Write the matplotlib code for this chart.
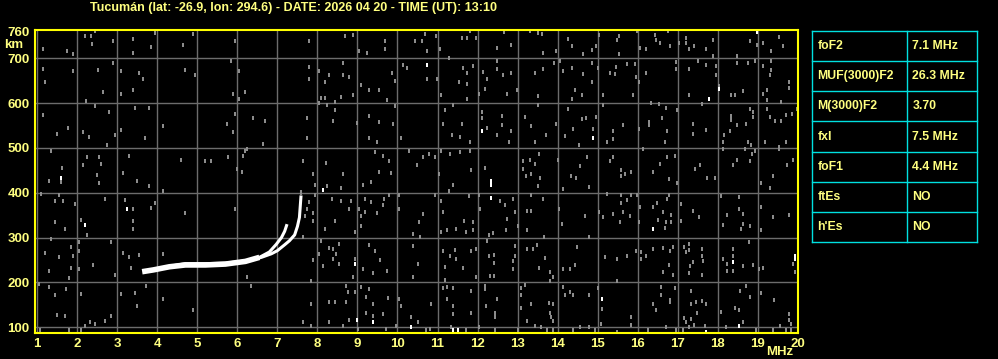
import matplotlib
matplotlib.use("Agg")
import matplotlib.pyplot as plt
import numpy as np

# タイトル
title = "Tucumán (lat: -26.9, lon: 294.6) - DATE: 2026 04 20 - TIME (UT): 13:10"

# 軸目盛り
freq_ticks = list(range(1, 21))
height_ticks = [100, 200, 300, 400, 500, 600, 700, 760]
grid_heights = [100, 200, 300, 400, 500, 600, 700]

# O-mode トレース (MHz, km)
o_freq = [3.62, 3.9, 4.3, 4.7, 5.2, 5.7, 6.2, 6.55, 6.8, 6.97, 7.1, 7.18, 7.24]
o_height = [224, 228, 235, 239, 239, 241, 247, 256, 268, 285, 300, 314, 330]

# X-mode トレース
x_freq = [4.3, 4.7, 5.2, 5.7, 6.2, 6.6, 6.85, 7.0, 7.18, 7.3, 7.43, 7.5, 7.55, 7.59]
x_height = [236, 242, 242, 243, 248, 256, 264, 271, 284, 293, 306, 325, 345, 394]
x_fade_freq = [7.59, 7.59]
x_fade_height = [394, 406]

# ノイズ (MHz, km)
noise = [
    (2.44, 760), (2.19, 750), (2.34, 750), (3.39, 742), (3.93, 757), (4.89, 753), (2.36, 731), (4.64, 729),
    (1.14, 721), (2.89, 739), (1.74, 717), (1.89, 709), (3.39, 712), (3.84, 726), (1.14, 677), (1.89, 671),
    (2.51, 673), (2.89, 689), (3.09, 671), (3.64, 653), (1.19, 648), (2.64, 625), (3.09, 621), (3.39, 628),
    (2.22, 604), (3.55, 667), (4.69, 674), (4.94, 662), (2.44, 593), (2.79, 581), (3.44, 590), (3.79, 590),
    (1.15, 574), (1.76, 545), (4.14, 548), (2.14, 536), (1.49, 530), (2.3, 524), (2.94, 529), (3.09, 541),
    (3.69, 523), (2.74, 507), (1.35, 494), (2.24, 479), (2.53, 479), (3.29, 481), (4.59, 474), (5.2, 470),
    (5.33, 470), (1.62, 455), (2.6, 465), (2.15, 461), (1.6, 424), (1.3, 427), (2.49, 439), (2.55, 422),
    (3.15, 443), (3.49, 427), (3.79, 414), (1.1, 398), (4.14, 404), (1.54, 396), (1.44, 381), (1.64, 381),
    (1.94, 375), (2.68, 386), (3.2, 383), (3.39, 363), (3.85, 366), (3.94, 378), (4.69, 355), (2.1, 340),
    (1.43, 334), (1.7, 320), (3.39, 338), (3.39, 320), (2.24, 306), (1.34, 297), (1.85, 279), (2.04, 290),
    (2.84, 290), (1.19, 266), (1.53, 256), (1.89, 260), (2.04, 271), (3.15, 266), (3.3, 256), (4.14, 264),
    (3.54, 261), (1.3, 225), (1.85, 232), (2.04, 229), (2.4, 239), (2.94, 217), (3.34, 232), (1.79, 210),
    (1.04, 197), (1.3, 191), (1.72, 186), (2.1, 174), (3.1, 174), (3.44, 176), (3.72, 193), (4.14, 163),
    (4.89, 139), (1.44, 173), (3.49, 148), (2.84, 126), (1.49, 128), (1.68, 126), (2.32, 111), (2.43, 107),
    (2.68, 113), (2.2, 104), (1.07, 93), (1.78, 93), (2.1, 93),
    (5.94, 739), (7.79, 739), (8.68, 750), (8.89, 751), (9.69, 739), (10.43, 739), (9.05, 717), (9.23, 712),
    (9.68, 721), (5.84, 693), (6.04, 671), (7.79, 680), (8.64, 689), (8.03, 671), (8.18, 648), (8.29, 662),
    (8.64, 662), (8.8, 657), (9.86, 667), (10.13, 684), (10.24, 679), (9.94, 649), (7.79, 653), (5.9, 621),
    (6.19, 625), (6.03, 608), (8.09, 612), (8.19, 612), (8.43, 602), (8.59, 614), (8.89, 617), (9.1, 640),
    (9.28, 630), (9.53, 628), (9.74, 606), (9.94, 593), (8.04, 601), (8.43, 584), (8.24, 595), (5.94, 576),
    (6.39, 567), (6.69, 559), (7.74, 567), (8.39, 561), (8.99, 555), (9.28, 571), (9.53, 558), (9.89, 554),
    (5.75, 554), (5.89, 535), (7.74, 523), (9.28, 523), (9.48, 513), (10.09, 523), (6.64, 509), (6.18, 492),
    (6.24, 497), (5.77, 479), (6.15, 481), (7.65, 470), (8.22, 467), (9.43, 491), (9.65, 482), (9.8, 470),
    (10.28, 492), (5.99, 452), (6.12, 446), (7.89, 441), (8.64, 441), (8.6, 410), (9.13, 418), (9.34, 424),
    (9.55, 447), (9.83, 445), (7.93, 418), (8.24, 416), (7.95, 396), (8.36, 386), (8.6, 381), (8.84, 382),
    (9.18, 385), (9.35, 379), (9.66, 386), (9.79, 396), (10.04, 396), (7.8, 379), (7.74, 364), (7.9, 355),
    (8.8, 364), (9.05, 364), (9.19, 358), (9.49, 355), (9.63, 372), (10.04, 364), (5.94, 364), (7.69, 349),
    (7.89, 338), (8.43, 338), (9.09, 349), (9.09, 327), (8.95, 313), (8.19, 319), (7.65, 301), (10.39, 307),
    (8.09, 293), (8.55, 286), (8.29, 277), (8.4, 275), (9.3, 284), (9.43, 271), (10.39, 281), (8.04, 264),
    (7.9, 249), (8.14, 236), (8.47, 264), (8.4, 252), (8.55, 241), (8.93, 252), (9.57, 249), (9.14, 229),
    (9.74, 226), (9.39, 221), (10.39, 213), (6.24, 213), (7.84, 204), (8.89, 212), (6.34, 193), (8.72, 193),
    (8.76, 178), (8.95, 178), (9.09, 191), (9.22, 167), (9.3, 186), (9.39, 152), (9.76, 165), (10.05, 163),
    (10.09, 148), (10.34, 122), (8.72, 157), (7.84, 152), (8.29, 157), (8.43, 157), (9.22, 133), (9.39, 126),
    (9.64, 130), (7.64, 111), (7.84, 104), (8.29, 111), (8.64, 102), (8.79, 116), (9.01, 96), (9.72, 96),
    (9.97, 104),
    (10.68, 755), (10.97, 750), (11.6, 746), (11.8, 761), (11.74, 745), (12.65, 758), (12.49, 723), (12.84, 729),
    (13.3, 761), (13.6, 755), (13.5, 757), (10.6, 738), (10.74, 717), (11.05, 721), (11.29, 701), (11.97, 746),
    (13.64, 712), (13.95, 715), (14.26, 743), (14.35, 727), (14.64, 710), (14.86, 719), (15.04, 751), (14.97, 727),
    (10.74, 653), (10.99, 654), (11.54, 648), (11.64, 679), (11.74, 668), (11.89, 682), (11.74, 643), (12.14, 669),
    (12.24, 654), (12.49, 693), (12.49, 675), (12.64, 662), (12.84, 667), (12.19, 632), (11.08, 617), (11.74, 610),
    (12.03, 621), (12.73, 621), (12.98, 630), (13.44, 667), (13.64, 677), (13.5, 615), (13.91, 689), (14.05, 694),
    (14.14, 671), (14.35, 679), (14.64, 664), (14.85, 689), (14.85, 648), (15.02, 679), (14.43, 628), (14.6, 617),
    (14.35, 608), (15.14, 617), (11.38, 595), (11.19, 585), (11.14, 554), (11.6, 554), (11.35, 529), (11.55, 524),
    (11.8, 514), (12.1, 580), (12.1, 567), (12.24, 545), (12.6, 571), (12.6, 550), (12.84, 537), (12.78, 513),
    (12.49, 528), (13.18, 569), (13.34, 548), (13.44, 514), (13.51, 595), (13.72, 529), (13.97, 554), (14.19, 526),
    (14.26, 587), (14.39, 543), (14.6, 564), (14.72, 567), (14.89, 543), (14.97, 569), (14.54, 506), (15.14, 595),
    (11.09, 492), (11.3, 487), (11.55, 491), (11.82, 494), (10.78, 487), (10.64, 479), (10.93, 479), (11.04, 442),
    (10.49, 461), (11.39, 418), (11.84, 450), (12.19, 456), (13.14, 470), (13.3, 472), (13.44, 465), (13.14, 452),
    (13.22, 438), (13.34, 442), (13.54, 487), (13.55, 433), (13.5, 414), (14.01, 473), (14.34, 438), (14.45, 434),
    (14.74, 479), (14.55, 459), (14.14, 409), (14.78, 412), (11.28, 404), (10.94, 396), (11.09, 381), (11.79, 392),
    (12.04, 396), (12.05, 364), (12.55, 381), (12.69, 372), (12.89, 385), (12.94, 357), (12.74, 342), (12.7, 316),
    (13.34, 396), (13.64, 386), (13.24, 360), (13.34, 360), (13.24, 316), (13.01, 325), (14.04, 364), (14.1, 331),
    (14.68, 348), (15.03, 358), (15.14, 345), (10.64, 353), (11.14, 357), (11.66, 337), (11.89, 334), (10.54, 334),
    (11.08, 312), (11.24, 316), (11.45, 319), (11.7, 312), (11.89, 316), (12.39, 310), (10.55, 301), (12.29, 305),
    (13.67, 301), (14.79, 301), (11.14, 271), (11.43, 273), (11.3, 260), (11.45, 252), (11.84, 271), (11.97, 275),
    (12.24, 293), (12.29, 258), (12.4, 261), (12.4, 243), (12.94, 282), (12.94, 260), (12.89, 248), (13.24, 275),
    (13.39, 275), (13.69, 254), (13.49, 284), (13.54, 232), (14.14, 230), (14.3, 230), (14.43, 238), (14.48, 278),
    (15.18, 256), (10.5, 241), (11.19, 235), (11.19, 206), (11.64, 232), (11.95, 213), (12.3, 215), (12.4, 215),
    (12.89, 230), (13.8, 223), (13.89, 213), (13.8, 204), (11.14, 187), (11.24, 189), (11.39, 187), (11.84, 180),
    (12.19, 193), (12.18, 185), (13.09, 187), (13.18, 195), (13.09, 172), (14.14, 191), (14.18, 173), (14.3, 178),
    (14.39, 172), (14.79, 171), (15.01, 187), (10.84, 152), (11.24, 163), (11.39, 147), (11.39, 130), (11.84, 133),
    (12.22, 147), (12.44, 133), (12.49, 163), (12.44, 124), (13.08, 143), (13.34, 152), (13.24, 115), (13.79, 154),
    (13.89, 152), (13.8, 133), (13.84, 122), (13.89, 113), (15.1, 141), (15.09, 107), (10.51, 111), (10.72, 93),
    (10.8, 96), (11.34, 100), (12.04, 101), (11.7, 93), (12.44, 93), (13.01, 95), (13.43, 104), (13.59, 100),
    (13.73, 94), (13.89, 93), (14.39, 93), (14.55, 101), (14.79, 101), (14.93, 93),
    (15.54, 750), (15.54, 710), (15.49, 740), (15.99, 761), (16.44, 751), (16.55, 735), (16.45, 740), (16.75, 761),
    (16.2, 720), (16.05, 723), (16.8, 727), (17.04, 733), (17.2, 744), (17.2, 735), (17.29, 720), (17.4, 727),
    (17.89, 740), (17.72, 720), (17.89, 705), (18.49, 705), (18.8, 738), (18.99, 729), (19.14, 735), (19.34, 715),
    (19.54, 747), (19.64, 727), (15.47, 680), (15.3, 667), (15.44, 665), (15.74, 686), (15.93, 688), (15.95, 658),
    (16.04, 648), (16.2, 667), (16.95, 691), (16.95, 677), (17.29, 677), (17.5, 693), (17.7, 684), (17.95, 682),
    (17.95, 662), (18.49, 689), (18.75, 689), (18.94, 693), (19.14, 682), (19.3, 662), (19.34, 694), (19.34, 674),
    (19.79, 648), (19.79, 634), (15.89, 619), (17.29, 619), (17.6, 598), (18.04, 638), (18.34, 619), (18.44, 617),
    (18.64, 626), (19.14, 621), (19.24, 628), (19.24, 606), (19.59, 602), (16.34, 601), (16.54, 598), (16.7, 590),
    (16.99, 585), (18.89, 580), (18.89, 569), (18.8, 586), (18.34, 571), (18.34, 563), (18.49, 550), (18.72, 554),
    (19.24, 586), (19.3, 569), (19.44, 561), (19.59, 559), (19.72, 574), (19.86, 576), (19.99, 587), (15.64, 550),
    (15.39, 537), (15.39, 520), (15.24, 513), (16.04, 543), (16.29, 558), (16.29, 550), (16.6, 567), (16.74, 537),
    (16.68, 513), (17.39, 554), (17.39, 531), (17.7, 541), (18.15, 528), (18.14, 514), (18.32, 537), (18.75, 513),
    (18.84, 506), (19.19, 513), (19.54, 502), (19.72, 514), (15.39, 479), (15.3, 470), (15.59, 450), (15.59, 438),
    (15.68, 442), (15.84, 447), (16.14, 497), (16.39, 447), (16.74, 479), (16.79, 431), (16.55, 465), (16.99, 422),
    (16.94, 483), (17.44, 452), (17.57, 461), (17.74, 433), (17.93, 433), (18.14, 497), (18.39, 462), (18.49, 474),
    (18.69, 497), (18.8, 470), (18.94, 492), (18.86, 487), (19.54, 497), (19.09, 422), (19.39, 438), (19.74, 461),
    (19.89, 472), (19.3, 410), (15.24, 398), (15.39, 353), (15.59, 394), (15.59, 378), (15.84, 396), (15.99, 396),
    (15.74, 383), (15.64, 357), (15.55, 334), (15.8, 348), (16.05, 368), (16.04, 334), (16.39, 368), (16.49, 378),
    (16.64, 357), (16.5, 340), (16.74, 386), (16.79, 396), (16.84, 351), (16.7, 334), (16.84, 334), (16.68, 321),
    (17.09, 375), (17.09, 338), (17.39, 360), (17.54, 345), (18.09, 392), (18.24, 351), (18.14, 328), (18.54, 364),
    (18.64, 353), (18.64, 331), (18.59, 319), (18.54, 390), (18.8, 325), (19.09, 368), (19.09, 318), (19.39, 347),
    (19.79, 351), (15.49, 253), (15.74, 260), (15.97, 271), (16.09, 269), (16.09, 253), (16.2, 258), (16.39, 275),
    (16.64, 276), (16.8, 271), (16.89, 278), (16.79, 239), (16.64, 224), (16.89, 217), (17.15, 278), (17.2, 267),
    (17.29, 286), (17.29, 273), (17.39, 245), (17.6, 275), (17.62, 260), (17.64, 247), (17.3, 236), (17.29, 221),
    (17.6, 217), (18.14, 253), (18.24, 241), (18.24, 226), (18.39, 275), (18.39, 260), (18.39, 225), (18.64, 236),
    (18.79, 290), (18.89, 239), (19.04, 230), (19.14, 232), (19.93, 223), (19.89, 241), (15.49, 204), (16.59, 189),
    (16.59, 171), (16.8, 162), (16.8, 156), (16.94, 187), (16.39, 152), (16.47, 139), (17.34, 182), (17.34, 152),
    (17.47, 156), (17.6, 158), (17.7, 151), (17.49, 133), (17.15, 120), (17.22, 111), (17.34, 118), (17.4, 105),
    (17.29, 100), (17.68, 104), (17.14, 93), (18.09, 135), (18.44, 143), (18.54, 139), (18.8, 168), (18.7, 193),
    (18.55, 182), (18.64, 111), (19.09, 176), (19.42, 162), (19.79, 130), (19.79, 116), (19.84, 107), (19.55, 104),
    (19.39, 93), (19.72, 93), (19.84, 93), (15.84, 122), (15.84, 105), (15.49, 89), (16.26, 93), (16.97, 93),
    (16.72, 101), (18.22, 100), (18.97, 95),
]
# 白いノイズ点
noise_white = [
    (1.6, 433), (3.24, 364), (2.19, 329), (8.14, 407), (8.93, 241), (8.99, 116), (9.39, 111), (10.34, 100),
    (10.74, 684), (12.1, 537), (12.34, 427), (12.34, 418), (12.34, 388), (14.89, 521), (15.1, 163), (11.39, 94),
    (11.51, 94), (18.99, 758), (17.79, 608), (18.04, 632), (16.39, 319), (18.39, 245), (19.93, 260), (19.93, 253),
    (17.7, 90), (18.54, 104),
]

# 右側の表
params = ["foF2", "MUF(3000)F2", "M(3000)F2", "fxI", "foF1", "ftEs", "h'Es"]
values = ["7.1 MHz", "26.3 MHz", "3.70", "7.5 MHz", "4.4 MHz", "NO", "NO"]

# 色
bg = "black"
frame_yellow = "#ffff00"
text_yellow = "#ffff80"
grid_gray = "#6c6c6c"
noise_gray = "#8c8c8c"
cyan = "#00e0e0"

plt.rcParams["font.family"] = ["Liberation Sans", "DejaVu Sans"]
plt.rcParams["font.weight"] = "bold"

fig = plt.figure(figsize=(9.98, 3.59), dpi=100, facecolor=bg)
W, H = 998.0, 359.0

# メインのイオノグラム
ax = fig.add_axes([35.3 / W, 1 - 332.7 / H, 762.4 / W, 303.2 / H], facecolor=bg)
ax.set_xlim(0.95, 20.0)
ax.set_ylim(88, 764)

# グリッド
for f in freq_ticks[:-1]:
    ax.axvline(f, color=grid_gray, lw=1.0, zorder=1)
for h in grid_heights:
    ax.axhline(h, color=grid_gray, lw=1.0, zorder=1)

# ノイズ (縦長の小さな四角形)
rect = [(-1, -1.5), (1, -1.5), (1, 1.5), (-1, 1.5), (-1, -1.5)]
nf, nh = zip(*noise)
ax.plot(nf, nh, ls="none", marker=rect, ms=2.3, mew=0, color=noise_gray, zorder=2)
wf, wh = zip(*noise_white)
ax.plot(wf, wh, ls="none", marker=rect, ms=2.3, mew=0, color="white", zorder=2)

# トレース (下側の平らな部分は太い)
ax.plot(o_freq[:8], o_height[:8], color="white", lw=4.0, solid_capstyle="butt", zorder=3)
ax.plot(o_freq[7:], o_height[7:], color="white", lw=2.2, solid_capstyle="butt", zorder=3)
ax.plot(x_freq, x_height, color="white", lw=2.2, solid_capstyle="butt", zorder=3)
ax.plot(x_fade_freq, x_fade_height, color=noise_gray, lw=1.5, solid_capstyle="butt", zorder=3)

for s in ax.spines.values():
    s.set_color(frame_yellow)
    s.set_linewidth(1.5)

ax.set_xticks(freq_ticks)
ax.set_xticklabels([str(v) for v in freq_ticks])
ax.set_yticks(height_ticks)
ax.set_yticklabels([str(v) for v in height_ticks])
ax.tick_params(length=0, colors=text_yellow, labelsize=9.5, pad=4)
for lab in ax.get_xticklabels() + ax.get_yticklabels():
    lab.set_fontweight("bold")

fig.text(14 / W, 1 - 45 / H, "km", color=text_yellow, fontsize=9.5, fontweight="bold",
         ha="center", va="center")
fig.text(780 / W, 1 - 352 / H, "MHz", color=text_yellow, fontsize=9.5, fontweight="bold",
         ha="center", va="center")
fig.text(294 / W, 1 - 7.5 / H, title, color=text_yellow, fontsize=9, fontweight="bold",
         ha="center", va="center")

# 表
tx = fig.add_axes([812.3 / W, 1 - 242.3 / H, 165 / W, 211.6 / H], facecolor=bg)
tx.set_xlim(0, 165)
tx.set_ylim(len(params), 0)
tx.axis("off")
for i in range(len(params) + 1):
    tx.plot([0, 165], [i, i], color=cyan, lw=1.0, clip_on=False)
for xv in [0, 95, 165]:
    tx.plot([xv, xv], [0, len(params)], color=cyan, lw=1.0, clip_on=False)
for i, (p, v) in enumerate(zip(params, values)):
    tx.text(5, i + 0.5, p, color=text_yellow, fontsize=8.8, fontweight="bold", va="center")
    tx.text(100, i + 0.5, v, color=text_yellow, fontsize=8.8, fontweight="bold", va="center")

fig.savefig("out.png", dpi=100, facecolor=bg)
